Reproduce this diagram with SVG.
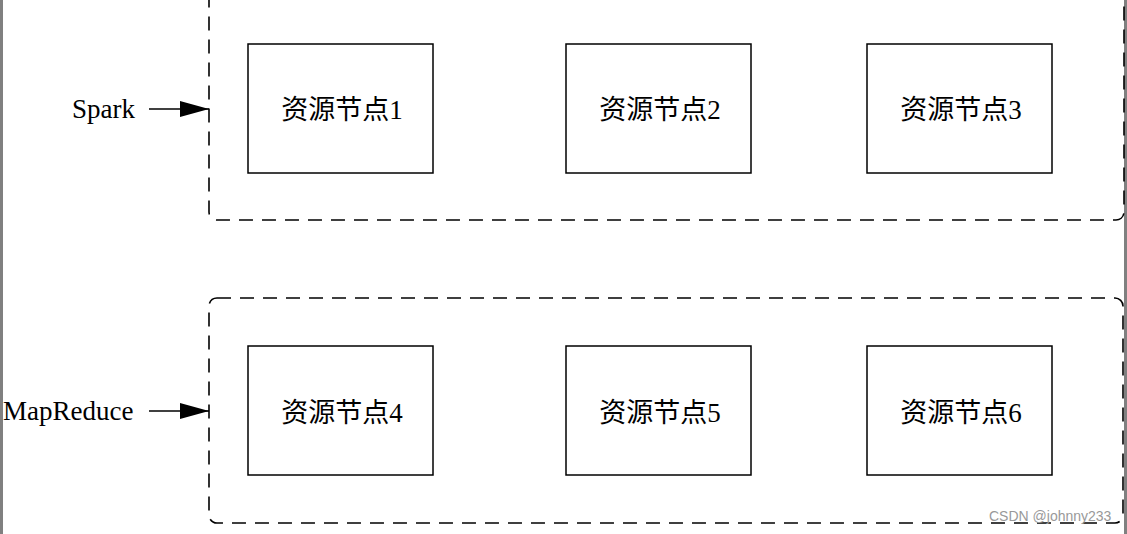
<svg xmlns="http://www.w3.org/2000/svg" width="1127" height="534" viewBox="0 0 1127 534">
<style>
.grp{fill:none;stroke:#000;stroke-width:1.6;stroke-dasharray:14 9}
.node rect{fill:#fff;stroke:#000;stroke-width:1.5}
text{font-family:"Liberation Serif","Noto Sans CJK SC",serif;font-size:27px;fill:#000}
.c line{stroke:#000;stroke-width:1.5}
</style>
<defs><marker id="ah" markerWidth="29" markerHeight="16" refX="29" refY="8" orient="auto" markerUnits="userSpaceOnUse" viewBox="0 0 29 16"><path d="M0,0L29,8L0,16z" fill="#000"/></marker></defs>
<rect width="1127" height="534" fill="#fff"/>
<rect x="0" y="0" width="3" height="534" fill="#808080"/>
<rect x="1124" y="0" width="3" height="534" fill="#808080"/>
<rect class="grp" x="209" y="-10" width="915" height="230" rx="8"/>
<rect class="grp" x="209" y="298" width="914" height="225" rx="8"/>
<g id="spark"><text x="72" y="118">Spark</text></g>
<g id="mapreduce"><text x="3" y="420">MapReduce</text></g>
<g class="node" id="n1"><rect x="248" y="44" width="185" height="129"/><text x="342" y="119" text-anchor="middle">资源节点1</text></g>
<g class="node" id="n2"><rect x="566" y="44" width="185" height="129"/><text x="660" y="119" text-anchor="middle">资源节点2</text></g>
<g class="node" id="n3"><rect x="867" y="44" width="185" height="129"/><text x="961" y="119" text-anchor="middle">资源节点3</text></g>
<g class="node" id="n4"><rect x="248" y="346" width="185" height="129"/><text x="342" y="422" text-anchor="middle">资源节点4</text></g>
<g class="node" id="n5"><rect x="566" y="346" width="185" height="129"/><text x="660" y="422" text-anchor="middle">资源节点5</text></g>
<g class="node" id="n6"><rect x="867" y="346" width="185" height="129"/><text x="961" y="422" text-anchor="middle">资源节点6</text></g>
<g class="c" id="connectors">
<line x1="149" y1="109" x2="209" y2="109" marker-end="url(#ah)"/>
<line x1="149" y1="411" x2="209" y2="411" marker-end="url(#ah)"/>
</g>
<text x="989" y="521" style="font-family:'Liberation Sans',sans-serif;font-size:14px;fill:#999">CSDN @johnny233</text>
</svg>
